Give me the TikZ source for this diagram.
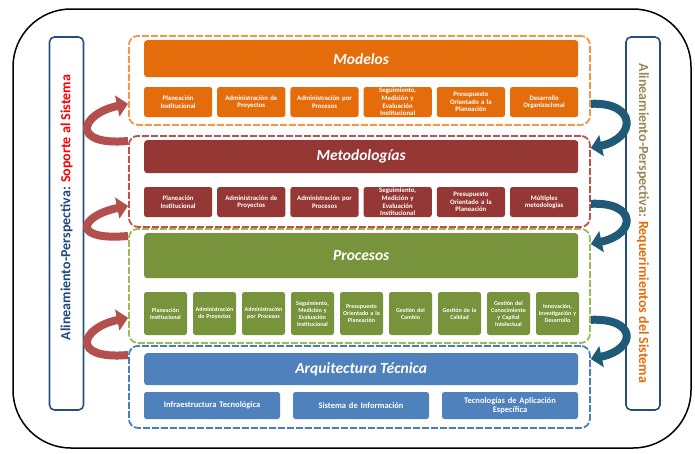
\documentclass[tikz,border=0pt]{standalone}
\usepackage{fontspec}
\setmainfont{Carlito}
\usepackage{tikz}
\usetikzlibrary{positioning, arrows.meta}
\definecolor{modfill}{HTML}{E46C0A}
\definecolor{modline}{HTML}{F79646}
\definecolor{metfill}{HTML}{953735}
\definecolor{metline}{HTML}{C0504D}
\definecolor{procfill}{HTML}{77933C}
\definecolor{procline}{HTML}{9BBB59}
\definecolor{arqfill}{HTML}{4F81BD}
\definecolor{arqline}{HTML}{4A7EBB}
\definecolor{sideline}{HTML}{264E7C}
\definecolor{sideblue}{HTML}{1F497D}
\definecolor{sideolive}{HTML}{948A54}
\definecolor{leftarrow}{HTML}{B34F4C}
\definecolor{rightarrow}{HTML}{1F5A79}
\tikzset{
	layer/.append style={
		draw,
		dash pattern=on 7pt off 2pt,
		line width=1.8pt,
		rounded corners=9pt,
		minimum width=461pt,
		anchor=north west,
		inner sep=0pt,
	},
	head/.append style={
		text=white,
		rounded corners=3pt,
		minimum width=434pt,
		anchor=north west,
		font={\fontsize{15.5}{17}\selectfont\bfseries\itshape},
	},
	sub/.append style={
		text=white,
		align=center,
		rounded corners=2.5pt,
		inner sep=1pt,
		outer sep=0pt,
		font={\fontsize{6.8}{7.6}\selectfont\bfseries},
	},
	sidebox/.append style={
		draw=sideline,
		line width=1.6pt,
		rounded corners=5pt,
		minimum width=373pt,
		minimum height=34pt,
	},
	sidetext/.append style={
		font={\fontsize{14}{16}\selectfont\bfseries},
	}
}

\begin{document}
\begin{tikzpicture}[
	x=1pt, y=-1pt,
	modsub/.style = {sub, fill=modfill, minimum width=68.2pt, text width=66pt, minimum height=30pt},
	metsub/.style = {sub, fill=metfill, minimum width=68.2pt, text width=66pt, minimum height=30pt},
	procsub/.style = {sub, fill=procfill, minimum width=42.9pt, text width=41pt, minimum height=43pt,
		font={\fontsize{6}{7}\selectfont\bfseries}},
	arqsub/.style = {sub, fill=arqfill, minimum width=136pt, text width=132pt, minimum height=27pt,
		font={\fontsize{8.5}{9.5}\selectfont\bfseries}},
	larrow/.style = {leftarrow, line width=8pt, -{Triangle[width=21pt,length=11pt]}},
	rarrow/.style = {rightarrow, line width=8pt, -{Triangle[width=21pt,length=11pt]}}
	]
	\useasboundingbox (0,0) rectangle (695,453);
	\node[draw, line width=1.5pt, rounded corners=58pt, minimum width=678pt, minimum height=439pt] (frame) at (352,228.5) {};
	
	% side columns
	\node[sidebox, rotate=90] (lsup) at (66.5,223.5) {};
	\node[sidetext, rotate=90] at ([yshift=16pt]lsup.center) {\textcolor{sideblue}{Alineamiento-Perspectiva:} \textcolor{red}{Soporte al Sistema}};
	\node[sidebox, rotate=-90] (rreq) at (643,223.5) {};
	\node[sidetext, rotate=-90] at (rreq.center) {\textcolor{sideolive}{Alineamiento-Perspectiva:} \textcolor{modfill}{Requerimientos del Sistema}};
	
	% Modelos
	\node[layer, draw=modline, minimum height=89pt] (mod) at (128,35) {};
	\node[head, fill=modfill, minimum height=37pt] (modh) at (144,40) {Modelos};
	\node[modsub, anchor=north west] (mod1) at (144,87) {Planeación\\Institucional};
	\node[modsub, right=5pt of mod1] (mod2) {Administración de\\Proyectos};
	\node[modsub, right=5pt of mod2] (mod3) {Administración por\\Procesos};
	\node[modsub, right=5pt of mod3] (mod4) {Seguimiento,\\Medición y\\Evaluación\\Institucional};
	\node[modsub, right=5pt of mod4] (mod5) {Presupuesto\\Orientado a la\\Planeación};
	\node[modsub, right=5pt of mod5] (mod6) {Desarrollo\\Organizacional};
	
	% Metodologias
	\node[layer, draw=metline, minimum height=91pt] (met) at (128,135) {};
	\node[head, fill=metfill, minimum height=33pt] (meth) at (144,140) {Metodologías};
	\node[metsub, anchor=north west] (met1) at (144,187) {Planeación\\Institucional};
	\node[metsub, right=5pt of met1] (met2) {Administración de\\Proyectos};
	\node[metsub, right=5pt of met2] (met3) {Administración por\\Procesos};
	\node[metsub, right=5pt of met3] (met4) {Seguimiento,\\Medición y\\Evaluación\\Institucional};
	\node[metsub, right=5pt of met4] (met5) {Presupuesto\\Orientado a la\\Planeación};
	\node[metsub, right=5pt of met5] (met6) {Múltiples\\metodologías};
	
	% Procesos
	\node[layer, draw=procline, minimum height=114pt] (proc) at (128,228) {};
	\node[head, fill=procfill, minimum height=45pt] (proch) at (144,233) {Procesos};
	\node[procsub, anchor=north west] (proc1) at (144,292) {Planeación\\Institucional};
	\node[procsub, right=6pt of proc1] (proc2) {Administración\\de Proyectos};
	\node[procsub, right=6pt of proc2] (proc3) {Administración\\por Procesos};
	\node[procsub, right=6pt of proc3] (proc4) {Seguimiento,\\Medición y\\Evaluación\\Institucional};
	\node[procsub, right=6pt of proc4] (proc5) {Presupuesto\\Orientado a la\\Planeación};
	\node[procsub, right=6pt of proc5] (proc6) {Gestión del\\Cambio};
	\node[procsub, right=6pt of proc6] (proc7) {Gestión de la\\Calidad};
	\node[procsub, right=6pt of proc7] (proc8) {Gestión del\\Conocimiento\\y Capital\\Intelectual};
	\node[procsub, right=6pt of proc8] (proc9) {Innovación,\\Investigación y\\Desarrollo};
	
	% Arquitectura
	\node[layer, draw=arqline, minimum height=82pt] (arq) at (128,345) {};
	\node[head, fill=arqfill, minimum height=32pt] (arqh) at (144,353) {Arquitectura Técnica};
	\node[arqsub, anchor=north west] (arq1) at (144,392) {Infraestructura Tecnológica};
	\node[arqsub, right=13pt of arq1] (arq2) {Sistema de Información};
	\node[arqsub, right=13pt of arq2] (arq3) {Tecnologías de Aplicación\\Específica};
	
	% support arrows (up) and requirement arrows (down)
	\draw[larrow] ([yshift=-6pt]met.north west) .. controls +(-58,5) and +(-48,10) .. ([yshift=22pt]mod.south west);
	\draw[larrow] ([yshift=-8pt]proc.north west) .. controls +(-58,5) and +(-48,10) .. ([yshift=22pt]met.south west);
	\draw[larrow] ([yshift=-10pt]arq.north west) .. controls +(-58,5) and +(-48,10) .. ([yshift=26pt]proc.south west);
	
	\draw[rarrow] ([yshift=22pt]mod.south east) .. controls +(46,-2) and +(46,-10) .. ([yshift=-13pt]met.north east);
	\draw[rarrow] ([yshift=24pt]met.south east) .. controls +(46,-2) and +(46,-10) .. ([yshift=-16pt]proc.north east);
	\draw[rarrow] ([yshift=24pt]proc.south east) .. controls +(46,-2) and +(46,-10) .. ([yshift=-14pt]arq.north east);
\end{tikzpicture}
\end{document}
